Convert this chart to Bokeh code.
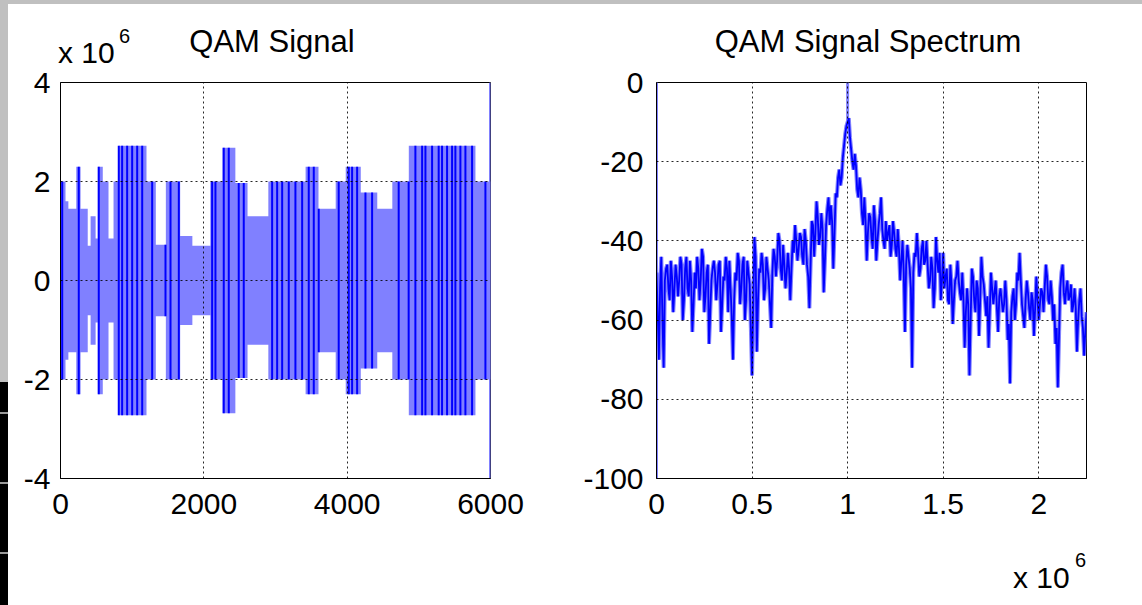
import numpy as np
from bokeh.plotting import figure
from bokeh.layouts import row, column
from bokeh.models import Range1d, FixedTicker, Div
from bokeh.embed import file_html
from bokeh.resources import INLINE

# ---------------- data ----------------
# QAM signal: symmetric envelope, piecewise constant (sample index where each block starts, amplitude)
sig_seg_start = [0, 70, 110, 220, 280, 380, 420, 490, 520, 590, 670, 740, 810, 1200, 1330, 1470,
                 1670, 1840, 2090, 2260, 2440, 2610, 2900, 3420, 3600, 3840, 3980, 4190, 4420,
                 4630, 4860, 5790]
sig_seg_amp = [2.0e6, 1.6e6, 1.45e6, 2.3e6, 1.45e6, 0.7e6, 1.3e6, 0.85e6, 2.3e6, 2.0e6, 0.85e6,
               2.0e6, 2.72e6, 2.0e6, 0.72e6, 2.0e6, 0.9e6, 0.7e6, 2.0e6, 2.68e6, 1.97e6, 1.3e6,
               2.0e6, 2.3e6, 1.45e6, 2.0e6, 2.3e6, 1.78e6, 1.45e6, 2.0e6, 2.72e6, 2.0e6]
sig_end = 6000
# sample positions of the darker carrier strokes
sig_dark_pos = [24, 255, 534, 813, 860, 930, 1000, 1070, 1140, 1279, 1465, 1535, 1651, 2116, 2162,
                2278, 2348, 2487, 2557, 2953, 3023, 3093, 3185, 3278, 3372, 3464, 3534, 3603, 3882,
                4022, 4069, 4139, 4255, 4348, 4719, 4858, 4952, 5046, 5092, 5185, 5277, 5324, 5394,
                5464, 5510, 5580, 5650, 5743, 5929]
sig_edge_x = [6000]
sig_edge_amp = [4.0e6]

# QAM spectrum (dB): values on bins 0, 12.5 kHz, ... 2.25 MHz, and the values in between
spec_fmax = 2.25e6
spec_db = [-48, -70, -44, -72, -47, -52, -45, -58, -46,
           -54, -44, -60, -47, -52, -45, -63, -48,
           -44, -55, -42, -58, -48, -66, -50, -45,
           -55, -46, -63, -49, -44, -58, -52, -70,
           -48, -43, -56, -46, -60, -45, -51, -74,
           -39, -68, -47, -43, -55, -44, -50, -62,
           -42, -49, -38, -47, -41, -52, -43, -55,
           -40, -36, -45, -38, -44, -37, -46, -57,
           -35, -44, -30, -41, -33, -53, -36, -29,
           -31, -47, -28, -24, -26, -19, -13, -10,
           -14, -20, -18, -27, -24, -33, -29, -45,
           -33, -39, -31, -45, -36, -29, -40, -35,
           -38, -44, -35, -42, -37, -50, -40, -63,
           -41, -47, -72, -43, -38, -49, -42, -46,
           -40, -52, -44, -57, -39, -48, -55, -43,
           -49, -55, -46, -61, -50, -45, -53, -48,
           -67, -52, -74, -47, -55, -50, -64, -44,
           -51, -59, -67, -48, -56, -50, -63, -52,
           -58, -50, -65, -76, -54, -60, -48, -43,
           -56, -62, -50, -57, -53, -64, -49, -60,
           -52, -58, -46, -55, -50, -60, -66, -77,
           -52, -46, -56, -50, -54, -58, -52, -68, -55, -59, -69, -58]
spec_db_mid = [-58, -52, -60, -50, -46, -55, -49, -52,
               -49, -50, -46, -55, -44, -54, -50, -56,
               -52, -47, -50, -44, -54, -46, -58, -47,
               -48, -51, -45, -56, -50, -47, -45, -59,
               -55, -50, -45, -52, -44, -55, -48, -62,
               -56, -44, -55, -48, -46, -52, -47, -56,
               -48, -44, -45, -40, -50, -46, -48, -47,
               -47, -43, -40, -42, -39, -46, -40, -49,
               -46, -36, -38, -34, -39, -37, -45, -32,
               -36, -35, -38, -29, -22, -24, -16, -11,
               -9, -17, -22, -21, -29, -27, -36, -35,
               -38, -34, -42, -35, -40, -33, -37, -42,
               -40, -36, -41, -38, -44, -42, -45, -48,
               -46, -44, -52, -48, -44, -43, -47, -40,
               -45, -46, -50, -47, -52, -45, -43, -50,
               -52, -47, -56, -51, -55, -49, -50, -55,
               -55, -58, -56, -60, -49, -58, -52, -55,
               -49, -55, -54, -58, -52, -53, -57, -54,
               -55, -56, -55, -61, -58, -52, -56, -50,
               -50, -59, -55, -53, -60, -55, -57, -55,
               -56, -53, -52, -49, -56, -54, -56, -62,
               -64, -48, -53, -52, -55, -51, -56, -57, -60, -52, -62, -63]
spec_spike_f = [0, 1.0e6]        # DC line and carrier line, both reaching 0 dB
spec_spike_db = [0, 0]
spec_spike_base = [-100, -10]

# ticks
sig_x_ticks = [0, 2000, 4000, 6000]
sig_x_labels = ["0", "2000", "4000", "6000"]
sig_y_ticks = [-4000000, -2000000, 0, 2000000, 4000000]
sig_y_labels = ["-4", "-2", "0", "2", "4"]
spec_x_ticks = [0, 500000, 1000000, 1500000, 2000000]
spec_x_labels = ["0", "0.5", "1", "1.5", "2"]
spec_y_ticks = [-100, -80, -60, -40, -20, 0]
spec_y_labels = ["-100", "-80", "-60", "-40", "-20", "0"]

# titles and exponent labels
sig_title = "QAM Signal"
spec_title = "QAM Signal Spectrum"
exp_base = "x 10"
exp_power = "6"

FONT = "Liberation Sans"
BLUE = "#0000ff"
LIGHT = "#8080ff"


def style(p, xt, xl, yt, yl, ystand):
    p.background_fill_color = "white"
    p.border_fill_color = "white"
    p.outline_line_color = "black"
    p.outline_line_width = 1
    for ax in (p.xaxis[0], p.yaxis[0]):
        ax.axis_line_color = "black"
        ax.major_tick_in = 0
        ax.major_tick_out = 0
        ax.minor_tick_line_color = None
        ax.major_label_text_font = FONT
        ax.major_label_text_font_size = "30px"
        ax.major_label_text_color = "black"
    p.xaxis[0].ticker = FixedTicker(ticks=xt)
    p.xaxis[0].major_label_overrides = {t: s for t, s in zip(xt, xl)}
    p.yaxis[0].ticker = FixedTicker(ticks=yt)
    p.yaxis[0].major_label_overrides = {t: s for t, s in zip(yt, yl)}
    p.xaxis[0].major_label_standoff = 15
    p.yaxis[0].major_label_standoff = ystand
    for g in (p.xgrid[0], p.ygrid[0]):
        g.grid_line_color = "black"
        g.grid_line_dash = "2 3"
        g.grid_line_alpha = 0.85
        g.level = "annotation"


def span(text, left, top, size, center=False):
    tr = "transform:translateX(-50%);" if center else ""
    return ('<span style="position:absolute;left:%dpx;top:%.1fpx;font-family:\'%s\';'
            'font-size:%dpx;line-height:1;white-space:nowrap;color:#000;%s">%s</span>'
            % (left, top, FONT, size, tr, text))


def text_div(width, height, spans):
    html = ('<div style="position:relative;width:%dpx;height:%dpx;overflow:visible;">' % (width, height)
            + "".join(spans) + "</div>")
    return Div(text=html, width=width, height=height, margin=0,
               styles={"background-color": "white"})


# ---------------- left: QAM signal ----------------
p1 = figure(width=563, height=541, x_range=Range1d(0, 6000), y_range=Range1d(-4e6, 4e6),
            min_border_left=52, min_border_right=81, min_border_top=18, min_border_bottom=127,
            toolbar_location=None, output_backend="svg")
style(p1, sig_x_ticks, sig_x_labels, sig_y_ticks, sig_y_labels, 10)

edges = sig_seg_start + [sig_end]
env_x, env_top = [], []
for i, a in enumerate(sig_seg_amp):
    env_x += [edges[i], edges[i + 1]]
    env_top += [a, a]
env_top = np.array(env_top)
p1.varea(x=env_x, y1=-env_top, y2=env_top, fill_color=LIGHT, fill_alpha=1.0)

idx = np.searchsorted(np.array(sig_seg_start), np.array(sig_dark_pos), side="right") - 1
dark_amp = np.array(sig_seg_amp)[idx]
p1.segment(x0=sig_dark_pos, y0=-dark_amp, x1=sig_dark_pos, y1=dark_amp,
           line_color=BLUE, line_width=2)
p1.segment(x0=sig_edge_x, y0=[-a for a in sig_edge_amp], x1=sig_edge_x, y1=sig_edge_amp,
           line_color=LIGHT, line_width=3)

h1 = text_div(563, 60, [span(sig_title, 264, 21.7, 31, center=True),
                        span(exp_base, 50, 33.6, 30),
                        span(exp_power, 111, 22.1, 20)])

# ---------------- right: spectrum ----------------
p2 = figure(width=571, height=464, x_range=Range1d(0, spec_fmax), y_range=Range1d(-100, 0),
            min_border_left=85, min_border_right=56, min_border_top=18, min_border_bottom=50,
            toolbar_location=None, output_backend="svg")
style(p2, spec_x_ticks, spec_x_labels, spec_y_ticks, spec_y_labels, 13)

n = len(spec_db)
spec_all = np.empty(2 * n - 1)
spec_all[0::2] = spec_db
spec_all[1::2] = spec_db_mid
spec_f = np.linspace(0, spec_fmax, 2 * n - 1)
p2.segment(x0=spec_spike_f, y0=spec_spike_base, x1=spec_spike_f, y1=spec_spike_db,
           line_color=LIGHT, line_width=3)
p2.line(spec_f, spec_all, line_color=LIGHT, line_width=4)
p2.line(spec_f, spec_all, line_color=BLUE, line_width=1.8)

h2 = text_div(571, 60, [span(spec_title, 297, 21.7, 31, center=True)])
f2 = text_div(571, 77, [span(exp_base, 442, 34.6, 30),
                        span(exp_power, 504, 22.1, 20)])

# ---------------- screenshot frame decoration ----------------
side_html = (
    '<div style="position:relative;width:8px;height:601px;background:#c0c0c0;">'
    '<div style="position:absolute;left:0;top:378px;width:8px;height:223px;background:#000;"></div>'
    '<div style="position:absolute;left:0;top:408px;width:8px;height:2px;background:#9a9a9a;"></div>'
    '<div style="position:absolute;left:0;top:478px;width:8px;height:2px;background:#9a9a9a;"></div>'
    '<div style="position:absolute;left:0;top:548px;width:8px;height:2px;background:#9a9a9a;"></div>'
    '</div>'
)
side = Div(text=side_html, width=8, height=601, margin=0,
           styles={"background-color": "#c0c0c0", "overflow": "hidden"})
top = Div(text="", width=1142, height=4, margin=0, styles={"background-color": "#c0c0c0"})

layout = column(top,
                row(side, column(h1, p1, spacing=0), column(h2, p2, f2, spacing=0), spacing=0),
                spacing=0)
open("out.html", "w").write(file_html(layout, INLINE))
